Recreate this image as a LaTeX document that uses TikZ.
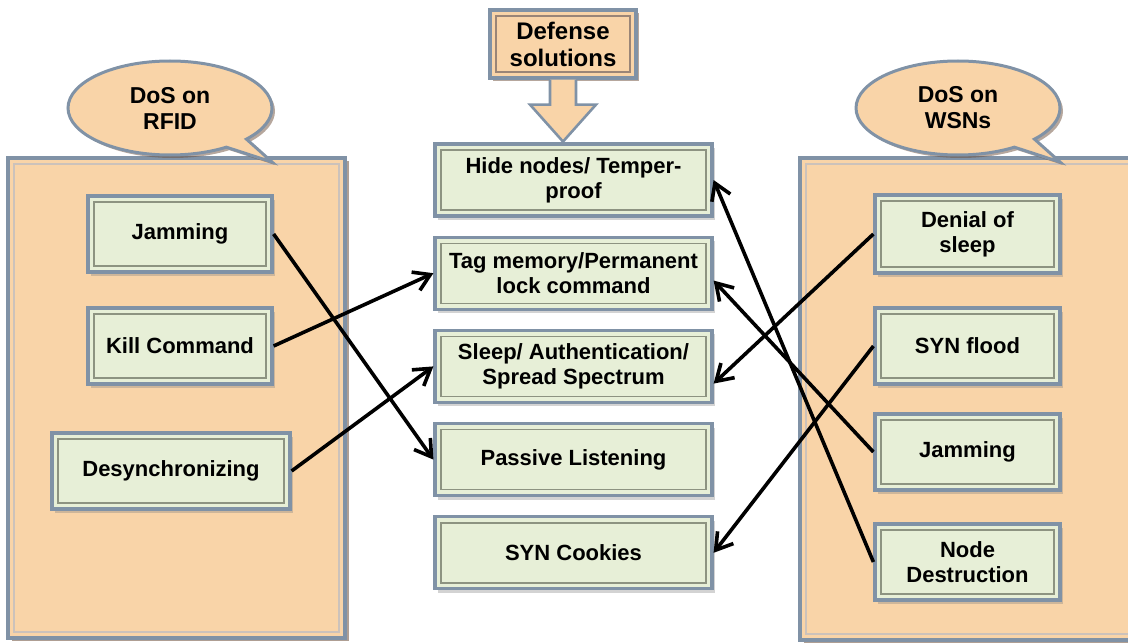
\documentclass[tikz,border=0pt]{standalone}
\usepackage{fontspec}
\setmainfont{Liberation Sans}
\usetikzlibrary{positioning,arrows.meta,shapes.callouts,shadows}
\definecolor{PanelPeach}{RGB}{249,212,168}
\definecolor{BoxGreen}{RGB}{231,239,215}
\definecolor{EdgeSteel}{RGB}{128,146,166}
\definecolor{EdgeBrown}{RGB}{110,80,60}
\definecolor{FrameOlive}{RGB}{112,120,98}

\begin{document}
\begin{tikzpicture}[
    x=0.5pt, y=-0.5pt,
    node distance=9pt,
    font=\fontsize{11}{12.5}\selectfont\bfseries,
    innerframe/.style={path picture={
        \draw[#1, line width=0.7pt]
          ([shift={(3pt,-3pt)}]path picture bounding box.north west) rectangle
          ([shift={(-3pt,3pt)}]path picture bounding box.south east);}},
    panel/.style={rectangle, draw=EdgeSteel, line width=1.6pt, fill=PanelPeach,
        minimum width=#1, minimum height=240pt, innerframe=EdgeBrown!35,
        drop shadow={shadow xshift=2pt, shadow yshift=-1.5pt, fill=EdgeBrown, opacity=0.55}},
    attack/.style={rectangle, draw=EdgeSteel, line width=1.6pt, fill=BoxGreen,
        minimum width=#1, minimum height=38pt, align=center, innerframe=FrameOlive!80,
        drop shadow={shadow xshift=1.5pt, shadow yshift=-2pt, opacity=0.35}},
    defense/.style={attack=138.5pt, minimum height=36pt},
    bubble/.style={ellipse callout, draw=EdgeSteel, line width=1.5pt, fill=PanelPeach,
        minimum width=102pt, minimum height=47pt, align=center,
        font=\fontsize{11.5}{13}\selectfont\bfseries,
        drop shadow={shadow xshift=1.5pt, shadow yshift=-1.5pt, fill=EdgeBrown, opacity=0.5}},
    link/.style={-{Straight Barb[length=8pt,width=10pt]}, line width=1.8pt, black}
]
\useasboundingbox (0,0) rectangle (1128,642);

% the two attack panels
\node[panel=168.5pt] (rfidpanel) at (176.5,398) {};
\node[panel=170pt, minimum height=241pt] (wsnpanel) at (970,399) {};

\node[bubble, callout absolute pointer={(272,162)}] (rfidtitle) at (170,108) {DoS on\\RFID};
\node[bubble, callout absolute pointer={(1060,162)}] (wsntitle) at (958,108) {DoS on\\WSNs};

% defense solutions header with its down arrow
\node[rectangle, draw=EdgeSteel, line width=1.6pt, fill=PanelPeach, minimum width=73pt,
      minimum height=34pt, align=center, innerframe=EdgeBrown!70,
      font=\fontsize{12}{13.5}\selectfont\bfseries,
      drop shadow={shadow xshift=1.5pt, shadow yshift=-1.5pt, fill=EdgeBrown, opacity=0.5}]
      (deftitle) at (563,44) {Defense\\solutions};
\filldraw[fill=PanelPeach, draw=EdgeSteel, line width=1.3pt]
  ([xshift=-6.5pt]deftitle.south) -- ++(0,25) -- ++(-20,0) -- ++(33,37)
  -- ++(33,-37) -- ++(-20,0) -- ++(0,-25);

% RFID attacks
\node[attack=92pt] (rjam) at (180,234) {Jamming};
\node[attack=92pt] (rkill) at (180,346) {Kill Command};
\node[attack=119pt] (rdesync) at (171,471) {Desynchronizing};

% defense column
\node[defense] (hide) at (573.5,180) {Hide nodes/ Temper-\\proof};
\node[defense, below=of hide] (tagmem) {Tag memory/Permanent\\lock command};
\node[defense, below=of tagmem] (sleep) {Sleep/ Authentication/\\Spread Spectrum};
\node[defense, below=of sleep] (passive) {Passive Listening};
\node[defense, below=of passive] (cookies) {SYN Cookies};

% WSN attacks
\node[attack=92.5pt, minimum height=39pt] (wdenial) at (967.5,234) {Denial of\\sleep};
\node[attack=92.5pt] (wsyn) at (967.5,346) {SYN flood};
\node[attack=92.5pt] (wjam) at (967.5,452) {Jamming};
\node[attack=92.5pt] (wdestroy) at (967.5,562) {Node\\Destruction};

% attack -> countermeasure
\draw[link] (rjam.east) -- (passive.west);
\draw[link] (rkill.east) -- (tagmem.west);
\draw[link] (rdesync.east) -- (sleep.west);
\draw[link] (wdenial.west) -- (sleep.-7);
\draw[link] (wsyn.west) -- (cookies.east);
\draw[link] (wjam.west) -- (tagmem.-3);
\draw[link] (wdestroy.west) -- (hide.east);
\end{tikzpicture}
\end{document}
